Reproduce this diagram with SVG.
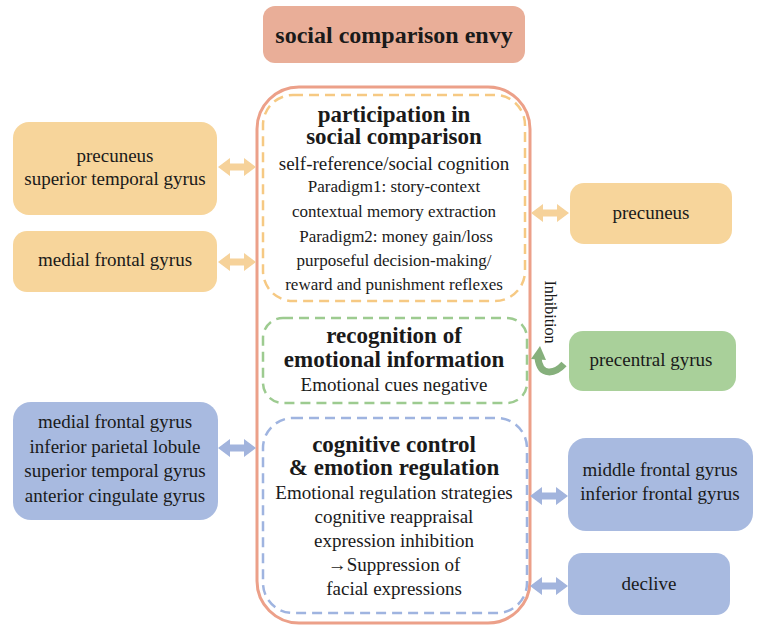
<svg xmlns="http://www.w3.org/2000/svg" width="767" height="629" viewBox="0 0 767 629">
<defs>
<style>
text{font-family:'Liberation Serif','DejaVu Serif','Times New Roman',serif;fill:#1a1a1a;text-anchor:middle}
.h{font-weight:bold;font-size:23px}
.b{font-size:19px}
.s{font-size:17px}
.yf{fill:#f7d59b}
.gf{fill:#a9d09a}
.bf{fill:#a8bae0}
.ya{fill:#f6d29a}
.ba{fill:#a2b4dd}
</style>
<path id="dbl" d="M0,0 L12,-9 L12,-3.5 L26,-3.5 L26,-9 L38,0 L26,9 L26,3.5 L12,3.5 L12,9 Z"/>
</defs>
<rect width="767" height="629" fill="#ffffff"/>
<g font-family="Liberation Serif, DejaVu Serif, serif">

<g id="title">
<rect x="263" y="6" width="262" height="57" rx="12" fill="#e9ae98"/>
<text x="394" y="43" font-weight="bold" font-size="24">social comparison envy</text>
</g>

<g id="outer">
<rect x="257" y="87" width="273" height="536" rx="42" fill="none" stroke="#eca089" stroke-width="3"/>
</g>

<g id="participation">
<rect x="263" y="95" width="262" height="206" rx="30" fill="none" stroke="#f6c983" stroke-width="2.5" stroke-dasharray="10 6"/>
<text class="h" x="394" y="122">participation in</text>
<text class="h" x="394" y="144">social comparison</text>
<text class="b" x="394" y="170">self-reference/social cognition</text>
<text class="s" x="394" y="192">Paradigm1: story-context</text>
<text class="s" x="394" y="217">contextual memory extraction</text>
<text class="s" x="396" y="242">Paradigm2: money gain/loss</text>
<text class="s" x="394" y="266">purposeful decision-making/</text>
<text class="s" x="394" y="290">reward and punishment reflexes</text>
</g>

<g id="recognition">
<rect x="263" y="318" width="264" height="85" rx="20" fill="none" stroke="#9dcb90" stroke-width="2.5" stroke-dasharray="10 6"/>
<text class="h" x="394" y="343">recognition of</text>
<text class="h" x="394" y="367">emotional information</text>
<text class="b" x="394" y="391">Emotional cues negative</text>
</g>

<g id="control">
<rect x="263" y="418" width="264" height="195" rx="30" fill="none" stroke="#9fb4e0" stroke-width="2.5" stroke-dasharray="10 6"/>
<text class="h" x="394" y="452">cognitive control</text>
<text class="h" x="394" y="475">&amp; emotion regulation</text>
<text class="b" x="394" y="499">Emotional regulation strategies</text>
<text class="b" x="394" y="523">cognitive reappraisal</text>
<text class="b" x="394" y="547">expression inhibition</text>
<text class="b" x="394" y="571">→Suppression of</text>
<text class="b" x="394" y="595">facial expressions</text>
</g>

<g id="left-precuneus-stg">
<rect class="yf" x="13" y="122" width="204" height="93" rx="16"/>
<text class="b" x="115" y="162">precuneus</text>
<text class="b" x="115" y="185">superior temporal gyrus</text>
</g>

<g id="left-mfg">
<rect class="yf" x="13" y="231" width="204" height="61" rx="14"/>
<text class="b" x="115" y="266">medial frontal gyrus</text>
</g>

<g id="right-precuneus">
<rect class="yf" x="570" y="183" width="162" height="61" rx="14"/>
<text class="b" x="651" y="219">precuneus</text>
</g>

<g id="precentral">
<rect class="gf" x="569" y="331" width="167" height="60" rx="14"/>
<text class="b" x="651" y="366">precentral gyrus</text>
</g>

<g id="left-blue">
<rect class="bf" x="13" y="402" width="205" height="118" rx="18"/>
<text class="b" x="115" y="428">medial frontal gyrus</text>
<text class="b" x="115" y="453">inferior parietal lobule</text>
<text class="b" x="115" y="477">superior temporal gyrus</text>
<text class="b" x="115" y="502">anterior cingulate gyrus</text>
</g>

<g id="right-blue">
<rect class="bf" x="568" y="438" width="185" height="93" rx="18"/>
<text class="b" x="660" y="476">middle frontal gyrus</text>
<text class="b" x="660" y="500">inferior frontal gyrus</text>
</g>

<g id="declive">
<rect class="bf" x="568" y="553" width="162" height="62" rx="14"/>
<text class="b" x="649" y="590">declive</text>
</g>

<g id="connectors">
<use href="#dbl" class="ya" x="218" y="167"/>
<use href="#dbl" class="ya" x="218" y="262"/>
<use href="#dbl" class="ba" x="218" y="448"/>
<use href="#dbl" class="ya" x="531" y="213"/>
<use href="#dbl" class="ba" x="530" y="496"/>
<use href="#dbl" class="ba" x="530" y="586"/>
<path d="M564,364 C555,374 540,377 538,358" fill="none" stroke="#86b07c" stroke-width="7"/>
<polygon points="531,359 540,346 546,360" fill="#86b07c"/>
<text x="0" y="0" transform="translate(545,312) rotate(90)" font-size="16">Inhibition</text>
</g>
</g>
</svg>
